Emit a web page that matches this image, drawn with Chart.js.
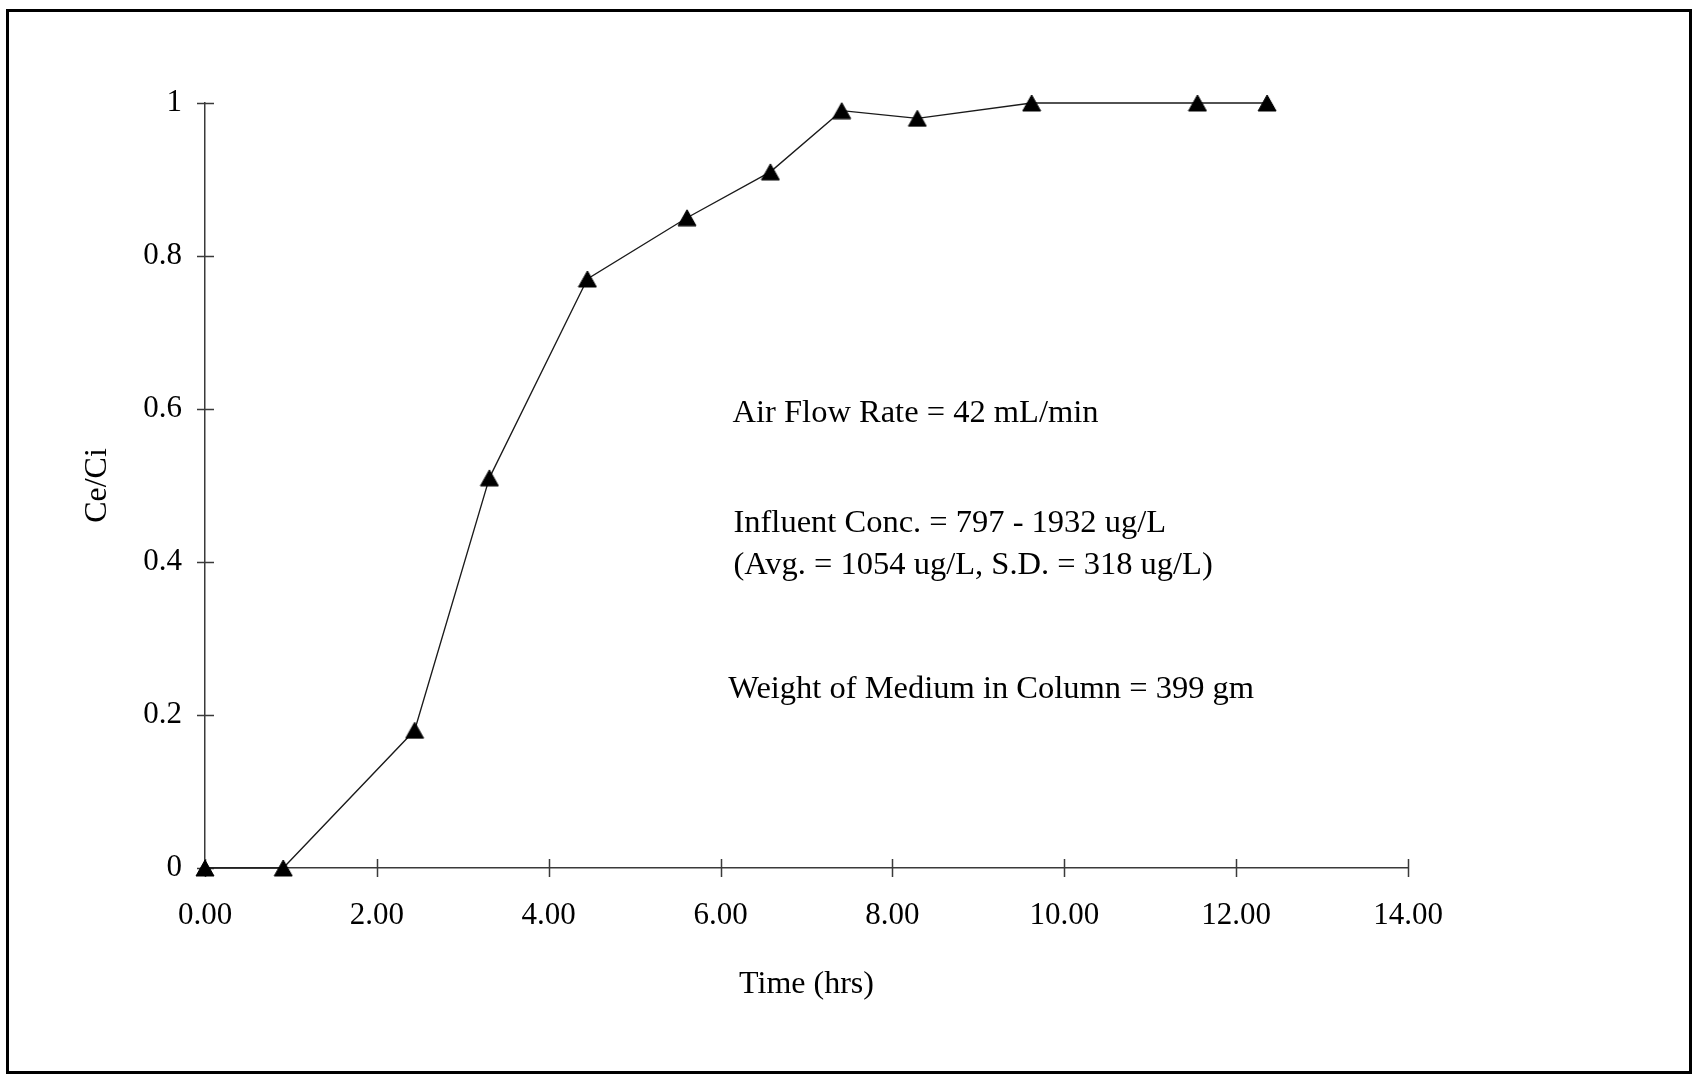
<!DOCTYPE html>
<html>
<head>
<meta charset="utf-8">
<title>Ce/Ci vs Time</title>
<script src="https://cdn.jsdelivr.net/npm/chart.js@4.4.1/dist/chart.umd.min.js"></script>
<style>
  html, body { margin: 0; padding: 0; background: #fff; }
  canvas { display: block; }
</style>
</head>
<body>
<canvas id="breakthroughChart" width="1694" height="1076"></canvas>
<script>
// breakthrough curve: effluent / influent concentration over time
const timeHrs = [0.00, 0.91, 2.44, 3.31, 4.45, 5.61, 6.58, 7.41, 8.29, 9.62, 11.55, 12.36];
const ceCi = [0, 0, 0.18, 0.51, 0.77, 0.85, 0.91, 0.99, 0.98, 1.00, 1.00, 1.00];
const xTicks = [0, 2, 4, 6, 8, 10, 12, 14];
const yTicks = [0, 0.2, 0.4, 0.6, 0.8, 1];
const noteLines = [
    'Air Flow Rate = 42 mL/min',
    'Influent Conc. = 797 - 1932 ug/L',
    '(Avg. = 1054 ug/L, S.D. = 318 ug/L)',
    'Weight of Medium in Column = 399 gm'
];

const serif = "'Liberation Serif', 'Times New Roman', serif";
const axisColor = '#3a3a3a';

// filled triangle marker, centred on its bounding box
function triangleMarker() {
    const c = document.createElement('canvas');
    c.width = 20;
    c.height = 18;
    const g = c.getContext('2d');
    g.fillStyle = '#000';
    g.strokeStyle = '#000';
    g.lineWidth = 1;
    g.lineJoin = 'round';
    g.beginPath();
    g.moveTo(10, 1);
    g.lineTo(19, 17);
    g.lineTo(1, 17);
    g.closePath();
    g.fill();
    g.stroke();
    return c;
}

// tick marks that cross the axis lines
const crossTicks = {
    id: 'crossTicks',
    beforeDatasetsDraw(chart) {
        const { ctx, scales: { x, y } } = chart;
        ctx.save();
        ctx.strokeStyle = axisColor;
        ctx.lineWidth = 1.5;
        ctx.beginPath();
        x.ticks.forEach(t => {
            const px = Math.round(x.getPixelForValue(t.value)) + 0.5;
            ctx.moveTo(px, y.bottom - 9);
            ctx.lineTo(px, y.bottom + 9);
        });
        y.ticks.forEach(t => {
            const py = Math.round(y.getPixelForValue(t.value)) + 0.5;
            ctx.moveTo(x.left - 8, py);
            ctx.lineTo(x.left + 9, py);
        });
        ctx.stroke();
        ctx.restore();
    }
};

// text notes placed in data coordinates, plus the outer frame
const notesAndFrame = {
    id: 'notesAndFrame',
    afterDraw(chart) {
        const { ctx, scales: { x, y } } = chart;
        const anchors = [[6.14, 0.594], [6.15, 0.451], [6.15, 0.396], [6.09, 0.233]];
        ctx.save();
        ctx.fillStyle = '#000';
        ctx.font = '32.5px ' + serif;
        ctx.textAlign = 'left';
        ctx.textBaseline = 'middle';
        noteLines.forEach((line, i) => {
            ctx.fillText(line, x.getPixelForValue(anchors[i][0]), y.getPixelForValue(anchors[i][1]));
        });
        ctx.strokeStyle = '#000';
        ctx.lineWidth = 3;
        ctx.strokeRect(7.5, 10.5, 1683, 1062);
        ctx.restore();
    }
};

new Chart(document.getElementById('breakthroughChart'), {
    type: 'scatter',
    data: {
        datasets: [{
            data: timeHrs.map((t, i) => ({ x: t, y: ceCi[i] })),
            showLine: true,
            borderColor: '#1a1a1a',
            borderWidth: 1.3,
            pointStyle: triangleMarker(),
            pointRadius: 9,
            pointHoverRadius: 9,
            clip: false
        }]
    },
    options: {
        responsive: false,
        animation: false,
        layout: { padding: { top: 103, right: 286, left: 0, bottom: 0 } },
        plugins: {
            legend: { display: false },
            tooltip: { enabled: false }
        },
        scales: {
            x: {
                type: 'linear',
                min: 0,
                max: 14,
                afterBuildTicks: s => { s.ticks = xTicks.map(v => ({ value: v })); },
                afterFit: s => { s.height = 208; },
                grid: { display: false, drawTicks: false },
                border: { display: true, color: axisColor, width: 1.5 },
                ticks: {
                    color: '#000',
                    padding: 29,
                    maxRotation: 0,
                    font: { family: serif, size: 31 },
                    callback: v => v.toFixed(2)
                },
                title: {
                    display: true,
                    text: 'Time (hrs)',
                    color: '#000',
                    font: { family: serif, size: 32 },
                    padding: { bottom: 72 }
                }
            },
            y: {
                type: 'linear',
                min: 0,
                max: 1,
                afterBuildTicks: s => { s.ticks = yTicks.map(v => ({ value: v })); },
                afterFit: s => { s.width = 205; },
                grid: { display: false, drawTicks: false },
                border: { display: true, color: axisColor, width: 1.5 },
                ticks: {
                    color: '#000',
                    padding: 23,
                    font: { family: serif, size: 31 },
                    callback: v => String(+v.toFixed(1))
                },
                title: {
                    display: true,
                    text: 'Ce/Ci',
                    color: '#000',
                    font: { family: serif, size: 32 },
                    padding: { top: 78 }
                }
            }
        }
    },
    plugins: [crossTicks, notesAndFrame]
});
</script>
</body>
</html>
